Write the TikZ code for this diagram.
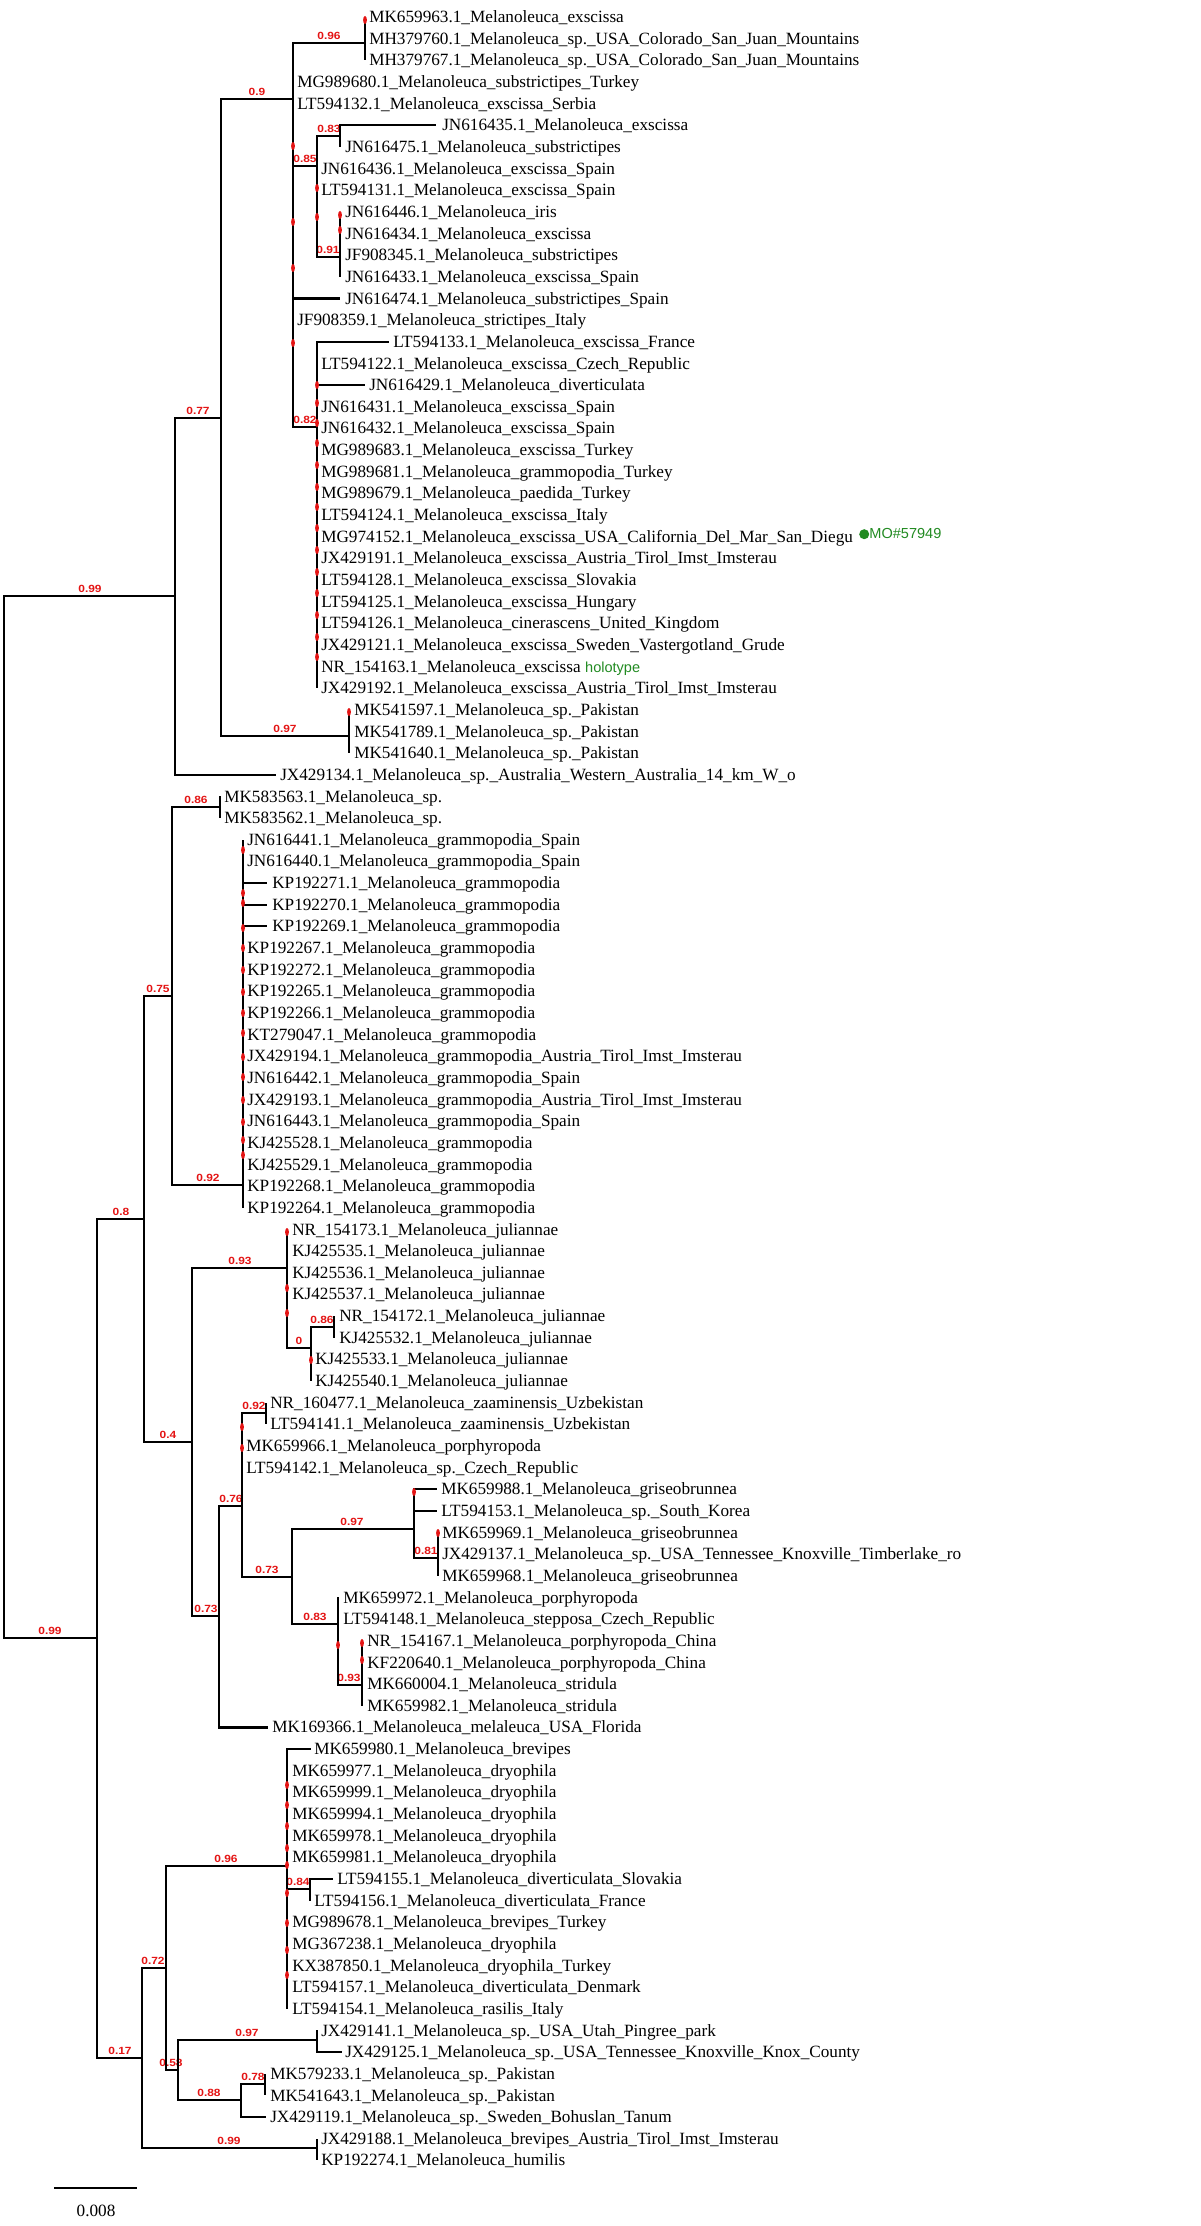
\documentclass[tikz,border=0pt]{standalone}
\usepackage{fontspec}
\setmainfont{Liberation Serif}
\newfontfamily\bsfont{Liberation Sans}[FakeStretch=1.15]
\newfontfamily\gfont{Liberation Sans}
\definecolor{bsred}{RGB}{228,20,20}
\definecolor{mogreen}{RGB}{34,139,34}
\newcommand\tleaf[5]{%
  \pgfmathsetmacro\lyv{17+(#1-1)*21.65}%
  \coordinate (t#1) at (#3,\lyv);
  \draw[br] (#2) |- (t#1);
  \node[leaflab] (L#1) at (#4,\lyv+5.6) {#5};
}
\newcommand\bslab[4]{\node[bslabel] (#1) at (#2,#3-3) {#4};}
\newcommand\rdots[2]{\foreach \yy in {#2} {\fill[bsred] (#1,\yy) ellipse [x radius=1.9, y radius=4];}}
\begin{document}
\begin{tikzpicture}[x=0.75pt,y=-0.75pt,
  br/.style={line width=1.7pt},
  leaflab/.style={anchor=base west, inner sep=0pt, font=\fontsize{12.9}{14}\selectfont},
  bslabel/.style={anchor=south, inner sep=0pt, text=bsred, font=\bsfont\bfseries\fontsize{7.8}{9}\selectfont},
  greentext/.style={anchor=base west, inner sep=0pt, text=mogreen, font=\gfont\fontsize{10.9}{12}\selectfont}]
\path[use as bounding box, fill=white] (0,0) rectangle (1200,2226);

% internal nodes
\coordinate (root) at (4,1117);
\coordinate (nU) at (175,596);
\coordinate (n077) at (221,418);
\coordinate (n09) at (293,99);
\coordinate (n096) at (365,43);
\coordinate (n085) at (317,166);
\coordinate (n083) at (340,136);
\coordinate (n091) at (340,257);
\coordinate (n082) at (317,427);
\coordinate (n097a) at (349,736);
\coordinate (nL) at (97,1638);
\coordinate (n08) at (144,1219);
\coordinate (n075) at (172,996);
\coordinate (n086a) at (220,807);
\coordinate (n092a) at (243,1185);
\coordinate (n04) at (192,1442);
\coordinate (n093a) at (287,1268);
\coordinate (n0a) at (311,1348);
\coordinate (n086b) at (334,1327);
\coordinate (n073a) at (219,1616);
\coordinate (n076) at (242,1506);
\coordinate (n092b) at (266,1413);
\coordinate (n073b) at (292,1577);
\coordinate (n097b) at (414,1529);
\coordinate (n081) at (438,1558);
\coordinate (n083b) at (338,1624);
\coordinate (n093b) at (362,1685);
\coordinate (n017) at (142,2058);
\coordinate (n099b) at (317,2148);
\coordinate (n072) at (166,1968);
\coordinate (n096b) at (287,1866);
\coordinate (n084) at (310,1889);
\coordinate (n058) at (178,2070);
\coordinate (n097c) at (317,2040);
\coordinate (n088) at (241,2100);
\coordinate (n078) at (265,2084);

% support values
\bslab{b1}{90}{596}{0.99}
\bslab{b2}{198}{418}{0.77}
\bslab{b3}{257}{99}{0.9}
\bslab{b4}{329}{43}{0.96}
\bslab{b5}{305}{166}{0.85}
\bslab{b6}{329}{136}{0.83}
\bslab{b7}{328}{257}{0.91}
\bslab{b8}{305}{427}{0.82}
\bslab{b9}{285}{736}{0.97}
\bslab{b10}{196}{807}{0.86}
\bslab{b11}{158}{996}{0.75}
\bslab{b12}{208}{1185}{0.92}
\bslab{b13}{121}{1219}{0.8}
\bslab{b14}{240}{1268}{0.93}
\bslab{b15}{322}{1327}{0.86}
\bslab{b16}{299}{1348}{0}
\bslab{b17}{168}{1442}{0.4}
\bslab{b18}{254}{1413}{0.92}
\bslab{b19}{231}{1506}{0.76}
\bslab{b20}{352}{1529}{0.97}
\bslab{b21}{426}{1558}{0.81}
\bslab{b22}{267}{1577}{0.73}
\bslab{b23}{315}{1624}{0.83}
\bslab{b24}{206}{1616}{0.73}
\bslab{b25}{349}{1685}{0.93}
\bslab{b26}{50}{1638}{0.99}
\bslab{b27}{226}{1866}{0.96}
\bslab{b28}{298}{1889}{0.84}
\bslab{b29}{153}{1968}{0.72}
\bslab{b30}{120}{2058}{0.17}
\bslab{b31}{247}{2040}{0.97}
\bslab{b32}{171}{2070}{0.58}
\bslab{b33}{209}{2100}{0.88}
\bslab{b34}{253}{2084}{0.78}
\bslab{b35}{229}{2148}{0.99}

% internal edges
\draw[br] (root) |- (nU);
\draw[br] (root) |- (nL);
\draw[br] (nU) |- (n077);
\draw[br] (n077) |- (n09);
\draw[br] (n077) |- (n097a);
\draw[br] (n09) |- (n096);
\draw[br] (n09) |- (n085);
\draw[br] (n09) |- (n082);
\draw[br] (n085) |- (n083);
\draw[br] (n085) |- (n091);
\draw[br] (nL) |- (n08);
\draw[br] (nL) |- (n017);
\draw[br] (n08) |- (n075);
\draw[br] (n08) |- (n04);
\draw[br] (n075) |- (n086a);
\draw[br] (n075) |- (n092a);
\draw[br] (n04) |- (n093a);
\draw[br] (n04) |- (n073a);
\draw[br] (n093a) |- (n0a);
\draw[br] (n0a) |- (n086b);
\draw[br] (n073a) |- (n076);
\draw[br] (n076) |- (n092b);
\draw[br] (n076) |- (n073b);
\draw[br] (n073b) |- (n097b);
\draw[br] (n073b) |- (n083b);
\draw[br] (n097b) |- (n081);
\draw[br] (n083b) |- (n093b);
\draw[br] (n017) |- (n072);
\draw[br] (n017) |- (n099b);
\draw[br] (n072) |- (n096b);
\draw[br] (n072) |- (n058);
\draw[br] (n096b) |- (n084);
\draw[br] (n058) |- (n097c);
\draw[br] (n058) |- (n088);
\draw[br] (n088) |- (n078);

% leaves
\tleaf{1}{n096}{365}{369}{MK659963.1\_Melanoleuca\_exscissa}
\tleaf{2}{n096}{365}{369}{MH379760.1\_Melanoleuca\_sp.\_USA\_Colorado\_San\_Juan\_Mountains}
\tleaf{3}{n096}{365}{369}{MH379767.1\_Melanoleuca\_sp.\_USA\_Colorado\_San\_Juan\_Mountains}
\tleaf{4}{n09}{293}{297}{MG989680.1\_Melanoleuca\_substrictipes\_Turkey}
\tleaf{5}{n09}{293}{297}{LT594132.1\_Melanoleuca\_exscissa\_Serbia}
\tleaf{6}{n083}{436}{442}{JN616435.1\_Melanoleuca\_exscissa}
\tleaf{7}{n083}{340}{345}{JN616475.1\_Melanoleuca\_substrictipes}
\tleaf{8}{n085}{317}{321}{JN616436.1\_Melanoleuca\_exscissa\_Spain}
\tleaf{9}{n085}{317}{321}{LT594131.1\_Melanoleuca\_exscissa\_Spain}
\tleaf{10}{n091}{340}{345}{JN616446.1\_Melanoleuca\_iris}
\tleaf{11}{n091}{340}{345}{JN616434.1\_Melanoleuca\_exscissa}
\tleaf{12}{n091}{340}{345}{JF908345.1\_Melanoleuca\_substrictipes}
\tleaf{13}{n091}{340}{345}{JN616433.1\_Melanoleuca\_exscissa\_Spain}
\tleaf{14}{n09}{340}{345}{JN616474.1\_Melanoleuca\_substrictipes\_Spain}
\tleaf{15}{n09}{293}{297}{JF908359.1\_Melanoleuca\_strictipes\_Italy}
\tleaf{16}{n082}{389}{393}{LT594133.1\_Melanoleuca\_exscissa\_France}
\tleaf{17}{n082}{317}{321}{LT594122.1\_Melanoleuca\_exscissa\_Czech\_Republic}
\tleaf{18}{n082}{365}{369}{JN616429.1\_Melanoleuca\_diverticulata}
\tleaf{19}{n082}{317}{321}{JN616431.1\_Melanoleuca\_exscissa\_Spain}
\tleaf{20}{n082}{317}{321}{JN616432.1\_Melanoleuca\_exscissa\_Spain}
\tleaf{21}{n082}{317}{321}{MG989683.1\_Melanoleuca\_exscissa\_Turkey}
\tleaf{22}{n082}{317}{321}{MG989681.1\_Melanoleuca\_grammopodia\_Turkey}
\tleaf{23}{n082}{317}{321}{MG989679.1\_Melanoleuca\_paedida\_Turkey}
\tleaf{24}{n082}{317}{321}{LT594124.1\_Melanoleuca\_exscissa\_Italy}
\tleaf{25}{n082}{317}{321}{MG974152.1\_Melanoleuca\_exscissa\_USA\_California\_Del\_Mar\_San\_Diegu}
\tleaf{26}{n082}{317}{321}{JX429191.1\_Melanoleuca\_exscissa\_Austria\_Tirol\_Imst\_Imsterau}
\tleaf{27}{n082}{317}{321}{LT594128.1\_Melanoleuca\_exscissa\_Slovakia}
\tleaf{28}{n082}{317}{321}{LT594125.1\_Melanoleuca\_exscissa\_Hungary}
\tleaf{29}{n082}{317}{321}{LT594126.1\_Melanoleuca\_cinerascens\_United\_Kingdom}
\tleaf{30}{n082}{317}{321}{JX429121.1\_Melanoleuca\_exscissa\_Sweden\_Vastergotland\_Grude}
\tleaf{31}{n082}{317}{321}{NR\_154163.1\_Melanoleuca\_exscissa}
\tleaf{32}{n082}{317}{321}{JX429192.1\_Melanoleuca\_exscissa\_Austria\_Tirol\_Imst\_Imsterau}
\tleaf{33}{n097a}{349}{354}{MK541597.1\_Melanoleuca\_sp.\_Pakistan}
\tleaf{34}{n097a}{349}{354}{MK541789.1\_Melanoleuca\_sp.\_Pakistan}
\tleaf{35}{n097a}{349}{354}{MK541640.1\_Melanoleuca\_sp.\_Pakistan}
\tleaf{36}{nU}{276}{280}{JX429134.1\_Melanoleuca\_sp.\_Australia\_Western\_Australia\_14\_km\_W\_o}
\tleaf{37}{n086a}{220}{224}{MK583563.1\_Melanoleuca\_sp.}
\tleaf{38}{n086a}{220}{224}{MK583562.1\_Melanoleuca\_sp.}
\tleaf{39}{n092a}{243}{247}{JN616441.1\_Melanoleuca\_grammopodia\_Spain}
\tleaf{40}{n092a}{243}{247}{JN616440.1\_Melanoleuca\_grammopodia\_Spain}
\tleaf{41}{n092a}{267}{272}{KP192271.1\_Melanoleuca\_grammopodia}
\tleaf{42}{n092a}{267}{272}{KP192270.1\_Melanoleuca\_grammopodia}
\tleaf{43}{n092a}{267}{272}{KP192269.1\_Melanoleuca\_grammopodia}
\tleaf{44}{n092a}{243}{247}{KP192267.1\_Melanoleuca\_grammopodia}
\tleaf{45}{n092a}{243}{247}{KP192272.1\_Melanoleuca\_grammopodia}
\tleaf{46}{n092a}{243}{247}{KP192265.1\_Melanoleuca\_grammopodia}
\tleaf{47}{n092a}{243}{247}{KP192266.1\_Melanoleuca\_grammopodia}
\tleaf{48}{n092a}{243}{247}{KT279047.1\_Melanoleuca\_grammopodia}
\tleaf{49}{n092a}{243}{247}{JX429194.1\_Melanoleuca\_grammopodia\_Austria\_Tirol\_Imst\_Imsterau}
\tleaf{50}{n092a}{243}{247}{JN616442.1\_Melanoleuca\_grammopodia\_Spain}
\tleaf{51}{n092a}{243}{247}{JX429193.1\_Melanoleuca\_grammopodia\_Austria\_Tirol\_Imst\_Imsterau}
\tleaf{52}{n092a}{243}{247}{JN616443.1\_Melanoleuca\_grammopodia\_Spain}
\tleaf{53}{n092a}{243}{247}{KJ425528.1\_Melanoleuca\_grammopodia}
\tleaf{54}{n092a}{243}{247}{KJ425529.1\_Melanoleuca\_grammopodia}
\tleaf{55}{n092a}{243}{247}{KP192268.1\_Melanoleuca\_grammopodia}
\tleaf{56}{n092a}{243}{247}{KP192264.1\_Melanoleuca\_grammopodia}
\tleaf{57}{n093a}{287}{292}{NR\_154173.1\_Melanoleuca\_juliannae}
\tleaf{58}{n093a}{287}{292}{KJ425535.1\_Melanoleuca\_juliannae}
\tleaf{59}{n093a}{287}{292}{KJ425536.1\_Melanoleuca\_juliannae}
\tleaf{60}{n093a}{287}{292}{KJ425537.1\_Melanoleuca\_juliannae}
\tleaf{61}{n086b}{334}{339}{NR\_154172.1\_Melanoleuca\_juliannae}
\tleaf{62}{n086b}{334}{339}{KJ425532.1\_Melanoleuca\_juliannae}
\tleaf{63}{n0a}{311}{315}{KJ425533.1\_Melanoleuca\_juliannae}
\tleaf{64}{n0a}{311}{315}{KJ425540.1\_Melanoleuca\_juliannae}
\tleaf{65}{n092b}{266}{270}{NR\_160477.1\_Melanoleuca\_zaaminensis\_Uzbekistan}
\tleaf{66}{n092b}{266}{270}{LT594141.1\_Melanoleuca\_zaaminensis\_Uzbekistan}
\tleaf{67}{n076}{242}{246}{MK659966.1\_Melanoleuca\_porphyropoda}
\tleaf{68}{n076}{242}{246}{LT594142.1\_Melanoleuca\_sp.\_Czech\_Republic}
\tleaf{69}{n097b}{437}{441}{MK659988.1\_Melanoleuca\_griseobrunnea}
\tleaf{70}{n097b}{437}{441}{LT594153.1\_Melanoleuca\_sp.\_South\_Korea}
\tleaf{71}{n081}{438}{442}{MK659969.1\_Melanoleuca\_griseobrunnea}
\tleaf{72}{n081}{438}{442}{JX429137.1\_Melanoleuca\_sp.\_USA\_Tennessee\_Knoxville\_Timberlake\_ro}
\tleaf{73}{n081}{438}{442}{MK659968.1\_Melanoleuca\_griseobrunnea}
\tleaf{74}{n083b}{338}{343}{MK659972.1\_Melanoleuca\_porphyropoda}
\tleaf{75}{n083b}{338}{343}{LT594148.1\_Melanoleuca\_stepposa\_Czech\_Republic}
\tleaf{76}{n093b}{362}{367}{NR\_154167.1\_Melanoleuca\_porphyropoda\_China}
\tleaf{77}{n093b}{362}{367}{KF220640.1\_Melanoleuca\_porphyropoda\_China}
\tleaf{78}{n093b}{362}{367}{MK660004.1\_Melanoleuca\_stridula}
\tleaf{79}{n093b}{362}{367}{MK659982.1\_Melanoleuca\_stridula}
\tleaf{80}{n073a}{268}{272}{MK169366.1\_Melanoleuca\_melaleuca\_USA\_Florida}
\tleaf{81}{n096b}{311}{314}{MK659980.1\_Melanoleuca\_brevipes}
\tleaf{82}{n096b}{287}{292}{MK659977.1\_Melanoleuca\_dryophila}
\tleaf{83}{n096b}{287}{292}{MK659999.1\_Melanoleuca\_dryophila}
\tleaf{84}{n096b}{287}{292}{MK659994.1\_Melanoleuca\_dryophila}
\tleaf{85}{n096b}{287}{292}{MK659978.1\_Melanoleuca\_dryophila}
\tleaf{86}{n096b}{287}{292}{MK659981.1\_Melanoleuca\_dryophila}
\tleaf{87}{n084}{333}{337}{LT594155.1\_Melanoleuca\_diverticulata\_Slovakia}
\tleaf{88}{n084}{310}{314}{LT594156.1\_Melanoleuca\_diverticulata\_France}
\tleaf{89}{n096b}{287}{292}{MG989678.1\_Melanoleuca\_brevipes\_Turkey}
\tleaf{90}{n096b}{287}{292}{MG367238.1\_Melanoleuca\_dryophila}
\tleaf{91}{n096b}{287}{292}{KX387850.1\_Melanoleuca\_dryophila\_Turkey}
\tleaf{92}{n096b}{287}{292}{LT594157.1\_Melanoleuca\_diverticulata\_Denmark}
\tleaf{93}{n096b}{287}{292}{LT594154.1\_Melanoleuca\_rasilis\_Italy}
\tleaf{94}{n097c}{317}{321}{JX429141.1\_Melanoleuca\_sp.\_USA\_Utah\_Pingree\_park}
\tleaf{95}{n097c}{342}{345}{JX429125.1\_Melanoleuca\_sp.\_USA\_Tennessee\_Knoxville\_Knox\_County}
\tleaf{96}{n078}{265}{270}{MK579233.1\_Melanoleuca\_sp.\_Pakistan}
\tleaf{97}{n078}{265}{270}{MK541643.1\_Melanoleuca\_sp.\_Pakistan}
\tleaf{98}{n088}{266}{270}{JX429119.1\_Melanoleuca\_sp.\_Sweden\_Bohuslan\_Tanum}
\tleaf{99}{n099b}{317}{321}{JX429188.1\_Melanoleuca\_brevipes\_Austria\_Tirol\_Imst\_Imsterau}
\tleaf{100}{n099b}{317}{321}{KP192274.1\_Melanoleuca\_humilis}

% red markers on zero-length nodes
\rdots{293}{146,222,268,343}
\rdots{365}{20}
\rdots{317}{188,217}
\rdots{340}{215,230}
\rdots{317}{385,403,423,443,465,487,507,528,550,572,593,615,637,657}
\rdots{349}{712}
\rdots{243}{850,893,903,928,948,970,992,1013,1033,1057,1077,1100,1122,1140,1155}
\rdots{287}{1232,1288,1313}
\rdots{311}{1360}
\rdots{242}{1427,1448}
\rdots{414}{1492}
\rdots{438}{1533}
\rdots{338}{1645}
\rdots{362}{1643,1660}
\rdots{287}{1785,1805,1826,1848,1865,1893,1923,1950,1975}

% annotations
\node[circle, fill=mogreen, inner sep=0pt, minimum size=7.5pt] (modot) at ([xshift=8.25pt,yshift=6pt]L25.base east) {};
\node[greentext] (mo) at ([xshift=12pt,yshift=3pt]L25.base east) {MO\#57949};
\node[greentext] (holo) at ([xshift=3pt]L31.base east) {holotype};

% scale bar
\coordinate (sb1) at (54,2188);
\coordinate (sb2) at (137,2188);
\draw[br] (sb1) -- (sb2);
\node[anchor=base, inner sep=0pt, font=\fontsize{12.9}{14}\selectfont] (sbl) at (96,2216) {0.008};
\end{tikzpicture}
\end{document}
